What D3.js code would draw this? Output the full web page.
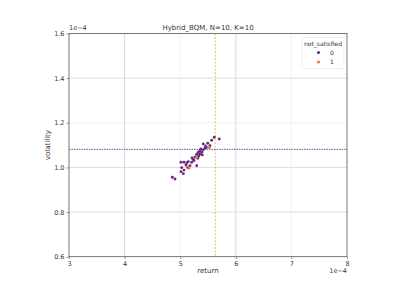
<!DOCTYPE html>
<html>
<head>
<meta charset="utf-8">
<script src="https://cdn.jsdelivr.net/npm/d3@7"></script>
<style>
  body { margin: 0; background: #fff; }
  text { font-family: "DejaVu Sans", sans-serif; fill: #333; }
</style>
</head>
<body>
<div id="chart"></div>
<script>
// values in units of 1e-4
const returns = [5.613, 5.703, 5.567, 5.495, 5.415, 5.536, 5.446, 5.369, 5.351, 5.326,
  5.387, 5.297, 5.351, 5.397, 5.266, 5.315, 5.236, 5.207, 5.146, 5.122,
  5.176, 5.297, 5.135, 5.027, 5.068, 5.014, 5.056, 4.858, 4.906, 5.014,
  5.068, 5.455, 5.41, 5.248, 5.212, 5.104, 5.47, 5.33, 5.523, 5.158, 5.297];
const volatility = [1.135, 1.127, 1.122, 1.108, 1.105, 1.097, 1.086, 1.083, 1.074, 1.068,
  1.068, 1.059, 1.059, 1.056, 1.047, 1.041, 1.036, 1.023, 1.026, 1.021,
  1.008, 1.008, 0.999, 0.999, 0.988, 0.981, 0.972, 0.956, 0.948, 1.023,
  1.023, 1.096, 1.078, 1.031, 1.042, 1.011, 1.09, 1.05, 1.088, 0.996, 1.045];
const notSatisfied = [0, 0, 0, 0, 0, 0, 0, 0, 0, 0,
  0, 0, 0, 0, 0, 0, 0, 0, 0, 0,
  0, 0, 0, 0, 0, 0, 0, 0, 0, 0,
  0, 0, 0, 0, 0, 0, 0, 0, 1, 1, 1];
const hueLevels = [0, 1];
const hueColors = ["#6b2a7f", "#ee7d3f"];
const refReturn = 5.63;
const refVolatility = 1.081;
const xTicks = [3, 4, 5, 6, 7, 8];
const yTicks = [0.6, 0.8, 1.0, 1.2, 1.4, 1.6];

const width = 407, height = 288;
const margin = { left: 69, right: 60, top: 33.5, bottom: 31.3 };

const svg = d3.select("#chart").append("svg")
    .attr("width", width)
    .attr("height", height);

const x = d3.scaleLinear().domain([3, 8]).range([margin.left, width - margin.right]);
const y = d3.scaleLinear().domain([0.6, 1.6]).range([height - margin.bottom, margin.top]);
const color = d3.scaleOrdinal().domain(hueLevels).range(hueColors);

// grid
const strongX = [4, 6], strongY = [1.4, 1.0, 0.8];
svg.append("g").selectAll("line")
    .data(xTicks.slice(1, -1))
    .enter().append("line")
    .attr("x1", d => x(d)).attr("x2", d => x(d))
    .attr("y1", y(1.6)).attr("y2", y(0.6))
    .attr("stroke", d => strongX.includes(d) ? "#cfcfcf" : "#efefef")
    .attr("stroke-width", 0.8);
svg.append("g").selectAll("line")
    .data(yTicks.slice(1, -1))
    .enter().append("line")
    .attr("x1", x(3)).attr("x2", x(8))
    .attr("y1", d => y(d)).attr("y2", d => y(d))
    .attr("stroke", d => strongY.some(v => Math.abs(v - d) < 1e-9) ? "#d6d6d6" : "#ececec")
    .attr("stroke-width", 0.8);

// reference lines
svg.append("line")
    .attr("x1", x(refReturn)).attr("x2", x(refReturn))
    .attr("y1", y(1.6)).attr("y2", y(0.6))
    .attr("stroke", "#d9b13a")
    .attr("stroke-width", 0.8)
    .attr("stroke-dasharray", "2,1.5");
svg.append("line")
    .attr("x1", x(3)).attr("x2", x(8))
    .attr("y1", y(refVolatility)).attr("y2", y(refVolatility))
    .attr("stroke", "#34348a")
    .attr("stroke-width", 0.8)
    .attr("stroke-dasharray", "1.5,1");

// points
const pts = returns.map((r, i) => ({ r, v: volatility[i], h: notSatisfied[i] }));
svg.append("g").selectAll("circle")
    .data(pts)
    .enter().append("circle")
    .attr("cx", d => x(d.r))
    .attr("cy", d => y(d.v))
    .attr("r", 1.45)
    .attr("fill", d => color(d.h));

// axes
const xAxis = svg.append("g")
    .attr("transform", `translate(0,${y(0.6)})`)
    .call(d3.axisBottom(x).tickValues(xTicks).tickFormat(d3.format("d")).tickSize(2.5).tickPadding(2));
const yAxis = svg.append("g")
    .attr("transform", `translate(${x(3)},0)`)
    .call(d3.axisLeft(y).tickValues(yTicks).tickFormat(d3.format(".1f")).tickSize(2.5).tickPadding(2));
[xAxis, yAxis].forEach(a => {
    a.select(".domain").remove();
    a.selectAll(".tick line").attr("stroke", "#555").attr("stroke-width", 0.6);
    a.selectAll(".tick text").attr("font-size", 6.5).style("fill", "#333");
});

// frame
svg.append("rect")
    .attr("x", x(3)).attr("y", y(1.6))
    .attr("width", x(8) - x(3)).attr("height", y(0.6) - y(1.6))
    .attr("fill", "none")
    .attr("stroke", "#555")
    .attr("stroke-width", 0.8);

// texts
svg.append("text")
    .attr("x", (x(3) + x(8)) / 2).attr("y", 30)
    .attr("text-anchor", "middle").attr("font-size", 7)
    .text("Hybrid_BQM, N=10, K=10");
svg.append("text")
    .attr("x", x(3)).attr("y", 30)
    .attr("font-size", 6.5)
    .text("1e\u22124");
svg.append("text")
    .attr("x", x(8)).attr("y", 273)
    .attr("text-anchor", "end").attr("font-size", 6.5)
    .text("1e\u22124");
svg.append("text")
    .attr("x", (x(3) + x(8)) / 2).attr("y", 273)
    .attr("text-anchor", "middle").attr("font-size", 7)
    .text("return");
svg.append("text")
    .attr("transform", `translate(50,${(y(0.6) + y(1.6)) / 2}) rotate(-90)`)
    .attr("text-anchor", "middle").attr("font-size", 7)
    .text("volatility");

// legend
const lg = svg.append("g").attr("transform", "translate(302,37.5)");
lg.append("rect")
    .attr("width", 42).attr("height", 31).attr("rx", 1.5)
    .attr("fill", "#fff").attr("fill-opacity", 0.8)
    .attr("stroke", "#e4e4e4").attr("stroke-width", 0.6);
lg.append("text")
    .attr("x", 21).attr("y", 8)
    .attr("text-anchor", "middle").attr("font-size", 6)
    .text("not_satisfied");
lg.selectAll("circle")
    .data(hueLevels)
    .enter().append("circle")
    .attr("cx", 16.5).attr("cy", (d, i) => 15 + i * 9.5)
    .attr("r", 1.6)
    .attr("fill", d => color(d));
lg.selectAll("text.lab")
    .data(hueLevels)
    .enter().append("text")
    .attr("class", "lab")
    .attr("x", 28).attr("y", (d, i) => 17.2 + i * 9.5)
    .attr("font-size", 6)
    .text(d => d);
</script>
</body>
</html>
